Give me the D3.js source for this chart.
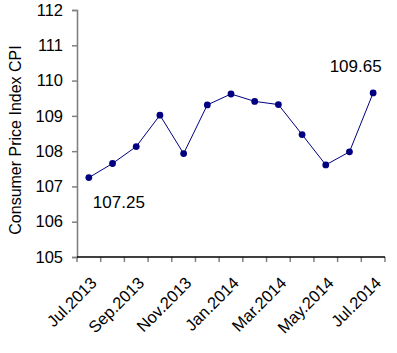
<!DOCTYPE html>
<html><head><meta charset="utf-8">
<script src="https://cdn.jsdelivr.net/npm/d3@7"></script>
<style>body{margin:0;background:#fff}svg{display:block;font-family:"Liberation Sans",Arial,sans-serif}</style>
</head><body><svg id="c" width="397" height="353"></svg>
<script>
const months = ["Jul.2013","Aug.2013","Sep.2013","Oct.2013","Nov.2013","Dec.2013","Jan.2014","Feb.2014","Mar.2014","Apr.2014","May.2014","Jun.2014","Jul.2014"];
const cpi = [107.25,107.65,108.13,109.02,107.93,109.31,109.62,109.41,109.32,108.47,107.61,107.98,109.65];
const yTicks = [105,106,107,108,109,110,111,112];
const shownLabels = ["Jul.2013","Sep.2013","Nov.2013","Jan.2014","Mar.2014","May.2014","Jul.2014"];
const yTitle = "Consumer Price Index CPI";

const svg = d3.select("#c");
const L = 77, R = 385, T = 10, B = 257;
const x = d3.scaleBand().domain(months).range([L, R]);
const y = d3.scaleLinear().domain([105, 112]).range([B, T]);
const cx = d => x(d) + x.bandwidth()/2;

// Y axis
const ya = svg.append("g").attr("transform", `translate(${L},0)`)
  .call(d3.axisLeft(y).tickValues(yTicks).tickSize(5).tickPadding(9).tickFormat(d3.format("d")));
ya.select(".domain").attr("stroke", "#808080").attr("stroke-width", 1.6);
ya.selectAll(".tick line").attr("stroke", "#808080").attr("stroke-width", 1.5);
ya.selectAll(".tick text").attr("font-size", 16.5).attr("fill", "#000").attr("font-family", "Liberation Sans, Arial, sans-serif");

// X axis
const xa = svg.append("g").attr("transform", `translate(0,${B})`);
const bounds = months.map(m => x(m)).concat([R]);
xa.selectAll("line.t").data(bounds).join("line").attr("class","t")
  .attr("x1", d => d).attr("x2", d => d).attr("y1", 0).attr("y2", 5)
  .attr("stroke", "#808080").attr("stroke-width", 1.5);
xa.append("line").attr("x1", L).attr("x2", R).attr("y1", 0).attr("y2", 0).attr("stroke", "#000").attr("stroke-width", 1.3);
xa.selectAll("text").data(shownLabels).join("text")
  .attr("transform", d => `translate(${cx(d) + 9},${27}) rotate(-45)`)
  .attr("text-anchor", "end").attr("font-size", 16.5).attr("fill", "#000")
  .text(d => d);

// Y title
svg.append("text").attr("transform", `translate(21,${140}) rotate(-90)`)
  .attr("text-anchor", "middle").attr("font-size", 16).attr("fill", "#000").text(yTitle);

// Line
const line = d3.line().x((d, i) => cx(months[i])).y(d => y(d));
svg.append("path").datum(cpi).attr("d", line).attr("fill", "none").attr("stroke", "#000080").attr("stroke-width", 1);
svg.selectAll("circle").data(cpi).join("circle")
  .attr("cx", (d, i) => cx(months[i])).attr("cy", d => y(d)).attr("r", 3.4).attr("fill", "#000080");

// Annotations
svg.append("text").attr("x", cx(months[0]) + 4).attr("y", y(cpi[0]) + 30)
  .attr("font-size", 17).attr("fill", "#000").text(cpi[0].toFixed(2));
svg.append("text").attr("x", cx(months[12]) - 17.5).attr("y", y(cpi[12]) - 21)
  .attr("text-anchor", "middle").attr("font-size", 17).attr("fill", "#000").text(cpi[12].toFixed(2));
</script></body></html>
